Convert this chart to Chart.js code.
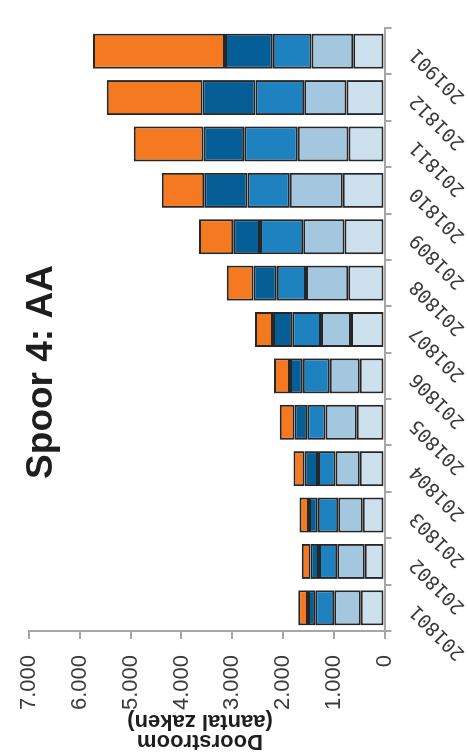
<!DOCTYPE html>
<html><head><meta charset="utf-8">
<script src="https://cdn.jsdelivr.net/npm/chart.js@4/dist/chart.umd.min.js"></script>
<style>
html,body{margin:0;padding:0;background:#fff;width:468px;height:755px;overflow:hidden;}
#rot{position:absolute;left:0;top:0;width:755px;height:468px;transform-origin:0 0;transform:translate(0,755px) rotate(-90deg);}
canvas{display:block;}
</style></head><body>
<div id="rot"><canvas id="c" width="755" height="468" style="width:755px;height:468px"></canvas></div>
<script>
const chartTitle = 'Spoor 4: AA';
const yTitleLines = ['Doorstroom', '(aantal zaken)'];
const categories = ['201801','201802','201803','201804','201805','201806','201807','201808','201809','201810','201811','201812','201901'];
const yTickLabels = ['0','1.000','2.000','3.000','4.000','5.000','6.000','7.000'];
const seriesNames = ['Reeks 1','Reeks 2','Reeks 3','Reeks 4','Reeks 5'];
const series1 = [468,391,430,487,545,487,661,713,790,823,707,751,617];
const series2 = [520,540,481,476,617,592,591,834,809,1046,1002,829,822];
const series3 = [374,360,405,347,360,534,565,578,854,828,1052,963,763];
const series4 = [147,168,173,264,251,250,380,457,528,854,804,1041,939];
const series5 = [192,173,187,218,289,314,352,526,674,836,1373,1888,2601];
const colors = ['#CDE0EE','#A4C7E0','#1F82C0','#065E96','#F47920'];

const axisGray = '#A6A6A6';
const allSeries = [series1,series2,series3,series4,series5];

const titlePlugin = {
  id: 'titles',
  afterDraw(chart) {
    const ctx = chart.ctx;
    ctx.save();
    ctx.fillStyle = '#1e1e1e';
    ctx.font = 'bold 37px "Liberation Sans"';
    ctx.textAlign = 'center';
    ctx.textBaseline = 'alphabetic';
    ctx.fillText(chartTitle, 383, 52);
    ctx.translate(20, 200);
    ctx.rotate(-Math.PI/2);
    ctx.font = 'bold 22px "Liberation Sans"';
    ctx.fillText(yTitleLines[0], 0, 0);
    ctx.fillText(yTitleLines[1], 0, 20);
    ctx.restore();
  }
};

new Chart(document.getElementById('c'), {
  type: 'bar',
  data: {
    labels: categories,
    datasets: allSeries.map((d,i) => ({
      label: seriesNames[i],
      data: d,
      backgroundColor: colors[i],
      borderColor: '#262626',
      borderWidth: 2,
      borderSkipped: false,
      barPercentage: 0.755,
      categoryPercentage: 1.0
    }))
  },
  options: {
    responsive: false,
    animation: false,
    devicePixelRatio: 1,
    layout: { padding: { top: 21, right: 28, left: 0, bottom: 0 } },
    plugins: { legend: { display: false }, title: { display: false }, tooltip: { enabled: false } },
    scales: {
      x: {
        stacked: true,
        offset: true,
        grid: { display: true, offset: true, drawOnChartArea: false, drawTicks: true, tickLength: 7, color: axisGray, tickColor: axisGray, lineWidth: 2 },
        border: { display: true, color: axisGray, width: 2 },
        ticks: { maxRotation: 45, minRotation: 45, autoSkip: false, color: '#3a3a3a', padding: 14,
                 font: { family: '"DejaVu Sans Mono"', size: 19 } },
        afterFit(scale) { scale.height = 83.5; }
      },
      y: {
        stacked: true,
        min: 0, max: 7000,
        grid: { display: true, drawOnChartArea: false, drawTicks: true, tickLength: 8, color: axisGray, tickColor: axisGray, lineWidth: 2 },
        border: { display: true, color: axisGray, width: 2 },
        ticks: { stepSize: 1000, color: '#3a3a3a', padding: 16,
                 font: { family: '"Liberation Sans"', size: 22 },
                 callback: (v) => yTickLabels[Math.round(v/1000)] },
        afterFit(scale) { scale.width = 124; }
      }
    }
  },
  plugins: [titlePlugin]
});
</script>
</body></html>
